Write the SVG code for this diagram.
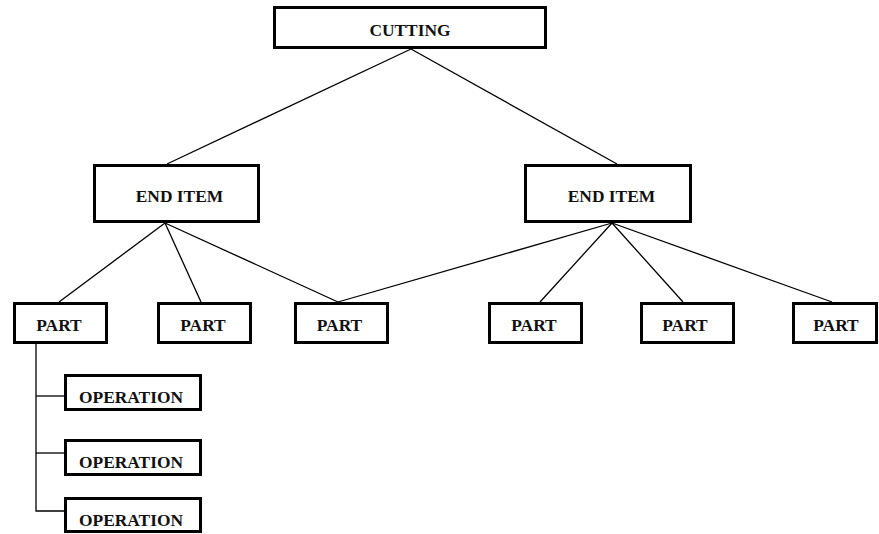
<svg xmlns="http://www.w3.org/2000/svg" width="879" height="534" viewBox="0 0 879 534">
<style>
.box{fill:#fff;stroke:#000;stroke-width:3}
.lbl{font-family:"Liberation Serif","Times New Roman",serif;font-weight:bold;font-size:17.4px;fill:#111;text-anchor:middle;dominant-baseline:central}
.ln{stroke:#000;stroke-width:1.3;fill:none}
</style>
<rect width="879" height="534" fill="#fff"/>
<g id="connectors">
<line class="ln" x1="411" y1="49" x2="167" y2="164"/>
<line class="ln" x1="411" y1="49" x2="617" y2="164"/>
<line class="ln" x1="165" y1="223" x2="59" y2="302"/>
<line class="ln" x1="165" y1="223" x2="201" y2="302"/>
<line class="ln" x1="165" y1="223" x2="338" y2="302"/>
<line class="ln" x1="612" y1="223" x2="338" y2="302"/>
<line class="ln" x1="612" y1="223" x2="540" y2="302"/>
<line class="ln" x1="612" y1="223" x2="683" y2="302"/>
<line class="ln" x1="612" y1="223" x2="832" y2="302"/>
<polyline class="ln" points="36,344 36,511 64,511"/>
<line class="ln" x1="36" y1="396" x2="64" y2="396"/>
<line class="ln" x1="36" y1="453" x2="64" y2="453"/>
</g>
<g id="cutting"><rect class="box" x="274.5" y="7.5" width="271" height="40"/><text class="lbl" x="410" y="30">CUTTING</text></g>
<g id="enditem1"><rect class="box" x="94.5" y="165.5" width="164" height="56"/><text class="lbl" x="179.5" y="196">END ITEM</text></g>
<g id="enditem2"><rect class="box" x="525.5" y="165.5" width="165" height="56"/><text class="lbl" x="611.5" y="196">END ITEM</text></g>
<g id="part1"><rect class="box" x="14.5" y="303.5" width="92" height="39"/><text class="lbl" x="59" y="325">PART</text></g>
<g id="part2"><rect class="box" x="158.5" y="303.5" width="92" height="39"/><text class="lbl" x="203" y="325">PART</text></g>
<g id="part3"><rect class="box" x="295.5" y="303.5" width="92" height="39"/><text class="lbl" x="339.5" y="325">PART</text></g>
<g id="part4"><rect class="box" x="489.5" y="303.5" width="92" height="39"/><text class="lbl" x="534" y="325">PART</text></g>
<g id="part5"><rect class="box" x="641.5" y="303.5" width="92" height="39"/><text class="lbl" x="685" y="325">PART</text></g>
<g id="part6"><rect class="box" x="793.5" y="303.5" width="83" height="39"/><text class="lbl" x="836" y="325">PART</text></g>
<g id="op1"><rect class="box" x="65.5" y="375.5" width="135" height="34"/><text class="lbl" x="131" y="397">OPERATION</text></g>
<g id="op2"><rect class="box" x="65.5" y="440.5" width="135" height="34"/><text class="lbl" x="131" y="462">OPERATION</text></g>
<g id="op3"><rect class="box" x="65.5" y="498.5" width="135" height="33"/><text class="lbl" x="131" y="519.5">OPERATION</text></g>
</svg>
